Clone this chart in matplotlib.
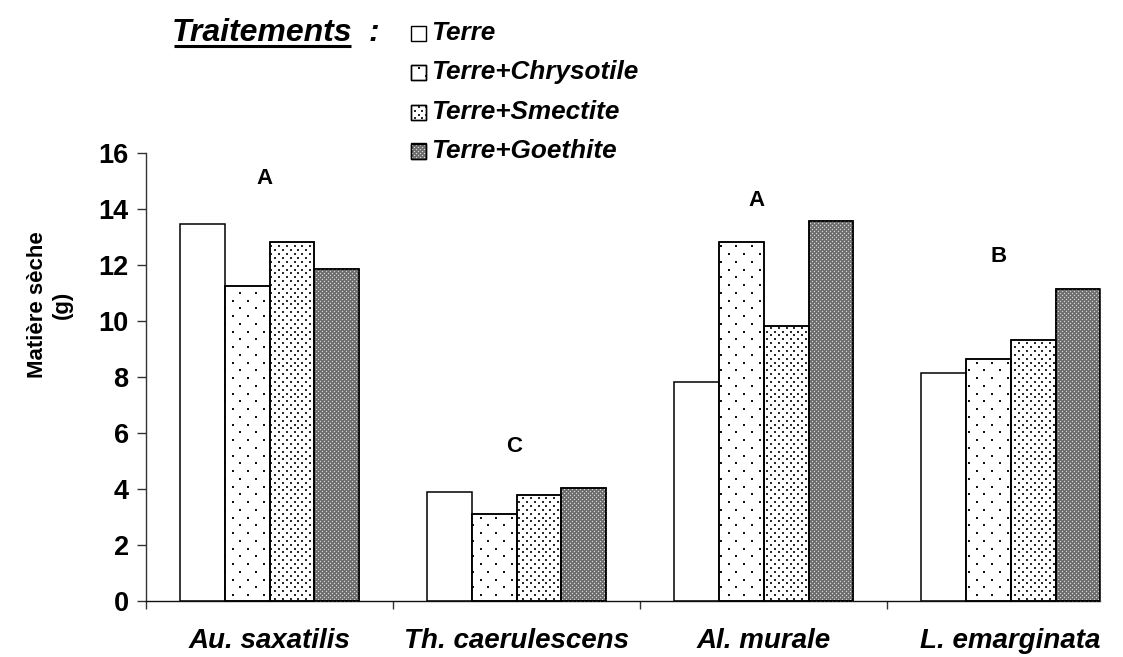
import numpy as np
import matplotlib
matplotlib.use("Agg")
import matplotlib.pyplot as plt
from matplotlib.patches import Rectangle
from matplotlib.lines import Line2D
from matplotlib.transforms import IdentityTransform

# ---- data -------------------------------------------------------------
species = ["Au. saxatilis", "Th. caerulescens", "Al. murale", "L. emarginata"]
treatments = ["Terre", "Terre+Chrysotile", "Terre+Smectite", "Terre+Goethite"]
terre = [13.47, 3.88, 7.83, 8.14]
chrysotile = [11.25, 3.11, 12.83, 8.63]
smectite = [12.83, 3.80, 9.82, 9.32]
goethite = [11.86, 4.05, 13.58, 11.15]
group_letters = ["A", "C", "A", "B"]
y_ticks = [0, 2, 4, 6, 8, 10, 12, 14, 16]

series = [terre, chrysotile, smectite, goethite]

# ---- figure setup -----------------------------------------------------
W, H, DPI = 1123, 657, 100
plt.rcParams['font.family'] = ['Liberation Sans', 'DejaVu Sans']
fig = plt.figure(figsize=(W / DPI, H / DPI), dpi=DPI)
fig.patch.set_facecolor('white')


def fx(x):
    return x / W


def fy(y):
    return 1 - y / H


ax = fig.add_axes([fx(146), fy(601), (1100 - 146) / W, (601 - 153) / H])
ax.set_xlim(-0.5, 3.362)
ax.set_ylim(0, 16)

# fill style of each treatment: (facecolor, stipple spec or None)
styles = [
    ('white', None),
    ('white', dict(step_x=15.5, step_y=7.75, size=2.0, color='#111111')),
    ('white', dict(step_x=7.75, step_y=3.875, size=2.1, color='#2a2a2a')),
    ('#6c6c6c', dict(step_x=4.0, step_y=2.0, size=1.2, color='#d8d8d8')),
]

bar_w = 0.182
x = np.arange(len(species))
bars = []
for i, (vals, (fc, _)) in enumerate(zip(series, styles)):
    b = ax.bar(x + (i - 1.5) * bar_w, vals, width=bar_w, facecolor=fc,
               edgecolor='black', linewidth=1.1, zorder=2)
    bars.append(b)


def stipple(patch, step_x, step_y, size, color):
    """Cover a patch with a staggered grid of dots, anchored to the canvas."""
    ext = patch.get_window_extent()
    rows = np.arange(np.floor(ext.y0 / step_y) * step_y, ext.y1 + step_y, step_y)
    xs, ys = [], []
    for r in rows:
        shift = step_x / 2 if int(round(r / step_y)) % 2 else 0.0
        cols = np.arange(np.floor(ext.x0 / step_x) * step_x + shift - step_x,
                         ext.x1 + step_x, step_x)
        xs.append(cols)
        ys.append(np.full_like(cols, r))
    xs = np.concatenate(xs)
    ys = np.concatenate(ys)
    dots = Line2D(xs, ys, linestyle='none', marker='s', markersize=size * 72 / DPI,
                  markerfacecolor=color, markeredgewidth=0,
                  transform=IdentityTransform(), zorder=3)
    fig.add_artist(dots)
    dots.set_clip_path(patch)
    return dots


def outline(patch, lw):
    """Redraw a patch border above its texture."""
    ext = patch.get_window_extent()
    frame = Rectangle((ext.x0, ext.y0), ext.width, ext.height, fill=False,
                      edgecolor='black', linewidth=lw, transform=IdentityTransform(),
                      zorder=4)
    fig.add_artist(frame)


for b, (_, spec) in zip(bars, styles):
    if spec is None:
        continue
    for patch in b.patches:
        stipple(patch, **spec)
        outline(patch, 1.1)

# ---- axes styling -----------------------------------------------------
for side in ('top', 'right'):
    ax.spines[side].set_visible(False)
ax.spines['left'].set_color('#333333')
ax.spines['bottom'].set_color('#111111')
ax.spines['left'].set_linewidth(1.0)
ax.spines['bottom'].set_linewidth(1.0)

ax.set_yticks(y_ticks)
ax.set_yticklabels([str(v) for v in y_ticks], fontsize=19.5, fontweight='bold')
ax.tick_params(axis='y', direction='out', length=6.5, width=1.0, pad=6, colors='#333333',
               labelcolor='black')

ax.set_xticks(x)
ax.set_xticklabels(species, fontsize=20, fontweight='bold', fontstyle='italic')
ax.tick_params(axis='x', which='major', length=0, pad=19.5)
ax.set_xticks(np.arange(-0.5, 3.0, 1.0), minor=True)
ax.tick_params(axis='x', which='minor', direction='out', length=6, width=1.0, colors='#333333')

# significance letters above each group
letter_pos = [(-0.02, 15.1), (-0.01, 5.5), (-0.03, 14.3), (-0.05, 12.3)]
for xi, letter, (dx, ly) in zip(x, group_letters, letter_pos):
    ax.text(xi + dx, ly, letter, ha='center', va='center', fontsize=16, fontweight='bold')

# y label
fig.text(fx(50), fy(305), "Matière sèche\n(g)", rotation=90, ha='center', va='center',
         multialignment='center', fontsize=16, fontweight='bold', linespacing=1.2)

# ---- legend -----------------------------------------------------------
title = fig.text(fx(172), fy(41), "Traitements", fontsize=23, fontweight='bold',
                 fontstyle='italic', ha='left', va='baseline')
fig.text(fx(369), fy(41), ":", fontsize=23, fontweight='bold', fontstyle='italic',
         ha='left', va='baseline')

row_y = [33, 72, 112, 151]
box = 15
for name, (fc, spec), ry in zip(treatments, styles, row_y):
    rect = Rectangle((fx(411), fy(ry + box / 2)), box / W, box / H, transform=fig.transFigure,
                     facecolor=fc, edgecolor='black', linewidth=1.0, zorder=2)
    fig.add_artist(rect)
    if spec is not None:
        stipple(rect, **spec)
        outline(rect, 1.0)
    fig.text(fx(431), fy(ry), name, fontsize=18.8, fontweight='bold', fontstyle='italic',
             ha='left', va='center')

fig.canvas.draw()
bb = title.get_window_extent()
fig.add_artist(Line2D([bb.x0 + 2, bb.x1 - 2], [fy(46) * H] * 2, color='black', linewidth=2.2,
                      transform=IdentityTransform(), solid_capstyle='butt'))

fig.savefig("out.png", dpi=DPI, facecolor='white')
